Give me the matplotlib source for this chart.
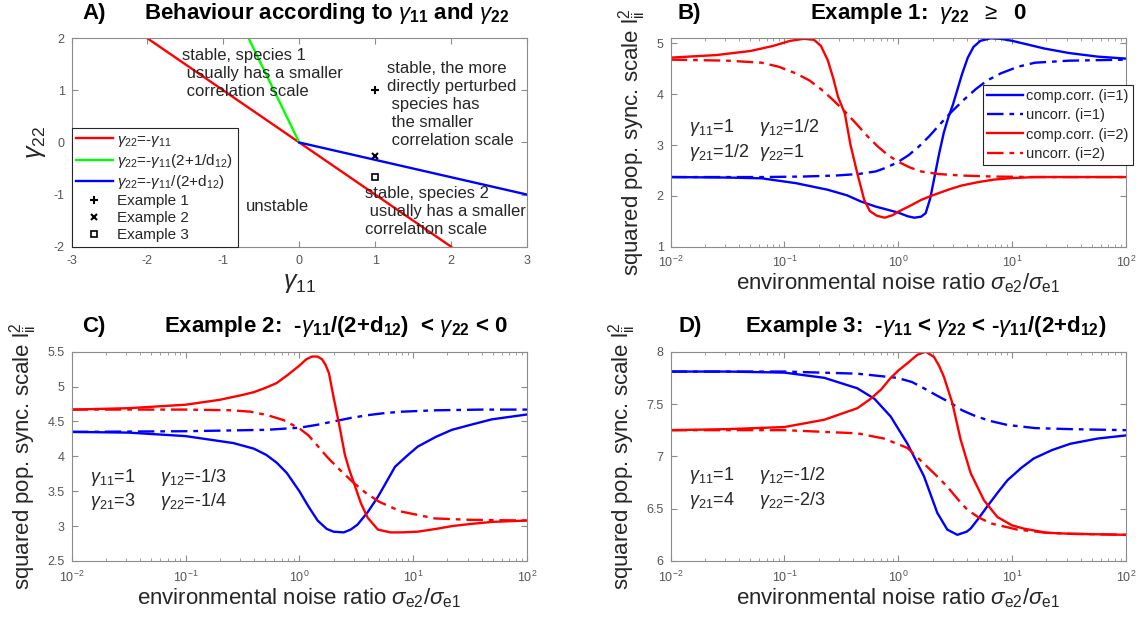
import numpy as np
import matplotlib
matplotlib.use("Agg")
import matplotlib.pyplot as plt
from matplotlib.ticker import FormatStrFormatter

plt.rcParams['font.family'] = ['Liberation Sans', 'DejaVu Sans']
plt.rcParams['mathtext.fontset'] = 'custom'
plt.rcParams['mathtext.rm'] = 'Liberation Sans'
plt.rcParams['mathtext.it'] = 'Liberation Sans:italic'
plt.rcParams['mathtext.bf'] = 'Liberation Sans:bold'
plt.rcParams['axes.unicode_minus'] = False

# ---- panel A: stability regions (lines in the gamma11 / gamma22 plane)
red_g11 = [-2, 2]
red_g22 = [2, -2]
green_g11 = [-2 / 3, 0]
green_g22 = [2, 0]
blue_g11 = [0, 3]
blue_g22 = [0, -1]
ex_g11 = [1, 1, 1]
ex_g22 = [1, -1 / 4, -2 / 3]

# ---- panel B (example 1), x given as log10(sigma_e2/sigma_e1)
B_c1_lx = [-2.0, -1.5, -1.2, -0.9, -0.62, -0.45, -0.33, -0.2, -0.1, 0.0, 0.08, 0.14, 0.2, 0.24,
           0.28, 0.32, 0.36, 0.40, 0.44, 0.48, 0.52, 0.56, 0.61, 0.66, 0.72, 0.81, 0.9, 1.0, 1.15,
           1.28, 1.5, 1.75, 2.0]
B_c1_y = [2.37, 2.36, 2.345, 2.25, 2.12, 2.01, 1.89, 1.79, 1.73, 1.67, 1.60, 1.57, 1.59, 1.66,
          1.95, 2.40, 2.85, 3.25, 3.55, 3.80, 4.10, 4.40, 4.72, 4.93, 5.05, 5.10, 5.09, 5.05, 4.97,
          4.90, 4.81, 4.74, 4.70]
B_u1_lx = [-2.0, -1.2, -0.84, -0.55, -0.35, -0.2, -0.1, 0.0, 0.09, 0.18, 0.27, 0.37, 0.47, 0.58,
           0.68, 0.78, 0.9, 1.05, 1.2, 1.5, 2.0]
B_u1_y = [2.37, 2.37, 2.38, 2.40, 2.43, 2.48, 2.56, 2.67, 2.80, 2.97, 3.17, 3.42, 3.66, 3.90,
          4.10, 4.27, 4.41, 4.54, 4.62, 4.66, 4.68]
B_c2_lx = [-2.0, -1.6, -1.3, -1.1, -0.95, -0.83, -0.74, -0.68, -0.62, -0.57, -0.53, -0.47, -0.42,
           -0.36, -0.30, -0.25, -0.19, -0.12, -0.05, 0.0, 0.1, 0.2, 0.3, 0.45, 0.55, 0.7, 0.84,
           1.0, 1.2, 1.5, 2.0]
B_c2_y = [4.72, 4.77, 4.85, 4.95, 5.05, 5.09, 5.07, 4.95, 4.67, 4.30, 3.95, 3.62, 3.00,
          2.44, 1.92, 1.70, 1.61, 1.57, 1.62, 1.69, 1.80, 1.92, 2.01, 2.13, 2.20, 2.27, 2.32,
          2.35, 2.37, 2.37, 2.37]
B_u2_lx = [-2.0, -1.5, -1.2, -1.05, -0.9, -0.78, -0.68, -0.58, -0.47, -0.37, -0.27, -0.18, -0.09,
           0.0, 0.1, 0.2, 0.35, 0.55, 0.84, 1.2, 2.0]
B_u2_y = [4.68, 4.66, 4.62, 4.54, 4.41, 4.27, 4.10, 3.90, 3.66, 3.42, 3.17, 2.97, 2.80,
          2.67, 2.56, 2.48, 2.43, 2.40, 2.38, 2.37, 2.37]

# ---- panel C (example 2)
C_c1_lx = [-2.0, -1.5, -1.0, -0.58, -0.4, -0.29, -0.2, -0.11, 0.0, 0.08, 0.16, 0.24, 0.30, 0.39,
           0.45, 0.51, 0.6, 0.69, 0.76, 0.84, 0.94, 1.04, 1.2, 1.34, 1.5, 1.69, 2.0]
C_c1_y = [4.35, 4.34, 4.29, 4.19, 4.11, 4.02, 3.91, 3.76, 3.50, 3.28, 3.08, 2.96, 2.92, 2.91,
          2.95, 3.02, 3.20, 3.42, 3.62, 3.85, 4.00, 4.14, 4.28, 4.38, 4.45, 4.53, 4.60]
C_u1_lx = [-2.0, -1.0, -0.29, 0.0, 0.15, 0.30, 0.45, 0.6, 0.75, 0.9, 1.2, 1.6, 2.0]
C_u1_y = [4.35, 4.36, 4.38, 4.41, 4.45, 4.50, 4.55, 4.59, 4.62, 4.64, 4.66, 4.67, 4.67]
C_c2_lx = [-2.0, -1.5, -1.0, -0.7, -0.5, -0.4, -0.3, -0.2, -0.1, 0.0, 0.06, 0.11, 0.16, 0.2,
           0.23, 0.26, 0.30, 0.35, 0.40, 0.44, 0.47, 0.54, 0.60, 0.69, 0.8, 0.9, 1.04, 1.2, 1.34,
           1.5, 1.69, 2.0]
C_c2_y = [4.67, 4.69, 4.74, 4.81, 4.88, 4.92, 4.98, 5.05, 5.17, 5.30, 5.39, 5.43, 5.43, 5.39,
          5.31, 5.19, 4.85, 4.45, 4.02, 3.80, 3.66, 3.33, 3.12, 2.95, 2.91, 2.91, 2.92, 2.96, 3.00,
          3.03, 3.06, 3.08]
C_u2_lx = [-2.0, -1.0, -0.6, -0.43, -0.28, -0.14, 0.0, 0.08, 0.16, 0.25, 0.36, 0.47, 0.58, 0.70,
           0.89, 1.19, 1.5, 2.0]
C_u2_y = [4.67, 4.67, 4.66, 4.64, 4.59, 4.52, 4.40, 4.30, 4.15, 3.98, 3.80, 3.63, 3.48, 3.35,
          3.21, 3.11, 3.09, 3.08]

# ---- panel D (example 3)
D_c1_lx = [-2.0, -1.5, -1.0, -0.65, -0.36, -0.21, -0.067, 0.08, 0.225, 0.342, 0.43, 0.518, 0.6,
           0.635, 0.7, 0.78, 0.87, 0.957, 1.08, 1.19, 1.35, 1.51, 1.75, 2.0]
D_c1_y = [7.81, 7.81, 7.80, 7.75, 7.65, 7.55, 7.38, 7.12, 6.81, 6.46, 6.30, 6.25, 6.28,
          6.31, 6.40, 6.52, 6.65, 6.77, 6.89, 6.98, 7.06, 7.12, 7.17, 7.20]
D_u1_lx = [-2.0, -1.0, -0.36, -0.01, 0.12, 0.225, 0.34, 0.46, 0.56, 0.665, 0.8, 0.957, 1.2, 1.51, 2.0]
D_u1_y = [7.81, 7.81, 7.79, 7.75, 7.71, 7.65, 7.58, 7.51, 7.44, 7.39, 7.34, 7.30, 7.27, 7.26, 7.25]
D_c2_lx = [-2.0, -1.5, -1.0, -0.65, -0.36, -0.243, -0.15, -0.067, 0.0, 0.08, 0.167, 0.24, 0.313,
           0.36, 0.40, 0.474, 0.547, 0.635, 0.752, 0.87, 1.0, 1.1, 1.3, 1.51, 2.0]
D_c2_y = [7.25, 7.26, 7.28, 7.35, 7.46, 7.55, 7.64, 7.75, 7.82, 7.89, 7.97, 8.00, 7.95,
          7.86, 7.76, 7.51, 7.16, 6.84, 6.58, 6.42, 6.34, 6.31, 6.27, 6.26, 6.25]
D_u2_lx = [-2.0, -1.0, -0.36, -0.126, 0.08, 0.225, 0.33, 0.43, 0.53, 0.606, 0.7, 0.81, 1.045,
           1.3, 1.51, 2.0]
D_u2_y = [7.25, 7.25, 7.22, 7.17, 7.08, 6.93, 6.82, 6.71, 6.58, 6.49, 6.42, 6.36, 6.30,
          6.27, 6.26, 6.25]

gamma_params = {
    'B': ['$\\gamma_{11}$=1', '$\\gamma_{12}$=1/2', '$\\gamma_{21}$=1/2', '$\\gamma_{22}$=1'],
    'C': ['$\\gamma_{11}$=1', '$\\gamma_{12}$=-1/3', '$\\gamma_{21}$=3', '$\\gamma_{22}$=-1/4'],
    'D': ['$\\gamma_{11}$=1', '$\\gamma_{12}$=-1/2', '$\\gamma_{21}$=4', '$\\gamma_{22}$=-2/3'],
}

DASH = (0, (7, 2.5, 2, 2.5))
TXT = '#262626'
TICKC = '#555555'
SPINE = '#8c8c8c'
LW = 1.7


def style_axes(ax):
    for s in ax.spines.values():
        s.set_color(SPINE)
        s.set_linewidth(0.8)
    ax.tick_params(which='both', direction='in', top=True, right=True, colors=SPINE,
                   labelcolor=TICKC, labelsize=9)
    ax.tick_params(which='major', length=4)
    ax.tick_params(which='minor', length=2)
    ax.tick_params(axis='x', which='both', pad=6)
    ax.tick_params(axis='y', which='both', pad=5)


fig = plt.figure(figsize=(11.46, 6.28), dpi=100)

# ================= A
axA = fig.add_axes([0.0624, 0.6072, 0.3975, 0.3318])
axA.plot(red_g11, red_g22, color='red', lw=LW, label='$\\gamma_{22}$=-$\\gamma_{11}$')
axA.plot(green_g11, green_g22, color='#00ff00', lw=LW,
         label='$\\gamma_{22}$=-$\\gamma_{11}$(2+1/$\\mathrm{d}_{12}$)')
axA.plot(blue_g11, blue_g22, color='blue', lw=LW,
         label='$\\gamma_{22}$=-$\\gamma_{11}$/(2+$\\mathrm{d}_{12}$)')
axA.plot(ex_g11[0], ex_g22[0], '+', color='k', ms=6, mew=1.5, ls='none', label='Example 1')
axA.plot(ex_g11[1], ex_g22[1], 'x', color='k', ms=5, mew=1.5, ls='none', label='Example 2')
axA.plot(ex_g11[2], ex_g22[2], 's', mfc='none', mec='k', ms=5, mew=1.2, ls='none', label='Example 3')
axA.set_xlim(-3, 3)
axA.set_ylim(-2, 2)
axA.set_xticks(range(-3, 4))
axA.set_yticks(range(-2, 3))
style_axes(axA)
axA.set_xlabel('$\\gamma_{11}$', fontsize=18, color=TXT, labelpad=3)
axA.set_ylabel('$\\gamma_{22}$', fontsize=18, color=TXT, labelpad=4)
legA = axA.legend(loc='lower left', bbox_to_anchor=(0, 0), borderaxespad=0, fontsize=11,
                  handlelength=2.4, handletextpad=0.3, labelspacing=0.2, fancybox=False,
                  edgecolor=TXT, framealpha=1, borderpad=0.3)
legA.get_frame().set_linewidth(0.8)
for t in legA.get_texts():
    t.set_color(TXT)
axA.text(-1.55, 1.33, 'stable, species 1\n usually has a smaller\n correlation scale', fontsize=12,
         color=TXT, va='center', linespacing=1.25, ha='left')
axA.text(1.15, 0.73, 'stable, the more\ndirectly perturbed\n species has\n the smaller\n correlation scale',
         fontsize=12, color=TXT, va='center', linespacing=1.25)
axA.text(0.86, -1.33, 'stable, species 2\n usually has a smaller\ncorrelation scale', fontsize=12,
         color=TXT, va='center', linespacing=1.25)
axA.text(-0.7, -1.23, 'unstable', fontsize=12, color=TXT, va='center')
axA.text(0.025, 1.12, 'A)', transform=axA.transAxes, fontsize=16, fontweight='bold', va='center')
axA.text(0.56, 1.12, 'Behaviour according to $\\gamma_{\\mathbf{11}}$ and $\\gamma_{\\mathbf{22}}$',
         transform=axA.transAxes, fontsize=16, fontweight='bold', va='center', ha='center')


def curve_panel(rect, c1, u1, c2, u2, ylim, yticks, letter, title, tx, params, rows):
    ax = fig.add_axes(rect)
    ax.plot(10.0 ** np.array(c1[0]), c1[1], color='blue', lw=LW, label='comp.corr. (i=1)')
    ax.plot(10.0 ** np.array(u1[0]), u1[1], color='blue', lw=LW, ls=DASH, label='uncorr. (i=1)')
    ax.plot(10.0 ** np.array(c2[0]), c2[1], color='red', lw=LW, label='comp.corr. (i=2)')
    ax.plot(10.0 ** np.array(u2[0]), u2[1], color='red', lw=LW, ls=DASH, label='uncorr. (i=2)')
    ax.set_xscale('log')
    ax.set_xlim(1e-2, 1e2)
    ax.set_ylim(*ylim)
    ax.set_yticks(yticks)
    ax.yaxis.set_major_formatter(FormatStrFormatter('%g'))
    style_axes(ax)
    ax.set_xlabel('environmental noise ratio $\\sigma_{\\mathrm{e2}}/\\sigma_{\\mathrm{e1}}$',
                  fontsize=16, color=TXT, labelpad=1)
    ax.set_ylabel('squared pop. sync. scale $\\mathrm{l}_{\\mathrm{ii}}^{2}$', fontsize=16,
                  color=TXT, labelpad=6)
    ax.text(tx[0], 1.12, letter, transform=ax.transAxes, fontsize=16, fontweight='bold', va='center')
    ax.text(tx[1], 1.12, title, transform=ax.transAxes, fontsize=16, fontweight='bold',
            va='center', ha='center')
    xs = [0.04, 0.193, 0.04, 0.193]
    ys = [rows[0], rows[0], rows[1], rows[1]]
    for s, xx, yy in zip(params, xs, ys):
        ax.text(xx, yy, s, transform=ax.transAxes, fontsize=13, color=TXT, va='center')
    return ax


axB = curve_panel([0.5852, 0.6072, 0.3974, 0.3318], (B_c1_lx, B_c1_y), (B_u1_lx, B_u1_y),
                  (B_c2_lx, B_c2_y), (B_u2_lx, B_u2_y), (1, 5.1), [1, 2, 3, 4, 5], 'B)',
                  'Example 1:  $\\gamma_{\\mathbf{22}}$  $\\geq$  0', (0.016, 0.545),
                  gamma_params['B'], (0.57, 0.45))
legB = axB.legend(loc='upper left', bbox_to_anchor=(0.685, 0.776), borderaxespad=0, fontsize=10.5,
                  handlelength=2.5, handletextpad=0.2, labelspacing=0.35, fancybox=False,
                  edgecolor=TXT, framealpha=1, borderpad=0.3)
legB.get_frame().set_linewidth(0.8)
for t in legB.get_texts():
    t.set_color(TXT)

curve_panel([0.0626, 0.1067, 0.3973, 0.3333], (C_c1_lx, C_c1_y), (C_u1_lx, C_u1_y),
            (C_c2_lx, C_c2_y), (C_u2_lx, C_u2_y), (2.5, 5.5), [2.5, 3, 3.5, 4, 4.5, 5, 5.5], 'C)',
            'Example 2:  -$\\gamma_{\\mathbf{11}}$/(2+$\\mathbf{d}_{\\mathbf{12}}$)  < $\\gamma_{\\mathbf{22}}$ < 0',
            (0.023, 0.58), gamma_params['C'], (0.40, 0.283))

curve_panel([0.5852, 0.1067, 0.3974, 0.3333], (D_c1_lx, D_c1_y), (D_u1_lx, D_u1_y),
            (D_c2_lx, D_c2_y), (D_u2_lx, D_u2_y), (6, 8), [6, 6.5, 7, 7.5, 8], 'D)',
            'Example 3:  -$\\gamma_{\\mathbf{11}}$ < $\\gamma_{\\mathbf{22}}$ < -$\\gamma_{\\mathbf{11}}$/(2+$\\mathbf{d}_{\\mathbf{12}}$)',
            (0.018, 0.56), gamma_params['D'], (0.41, 0.29))

fig.savefig('out.png', dpi=100)
